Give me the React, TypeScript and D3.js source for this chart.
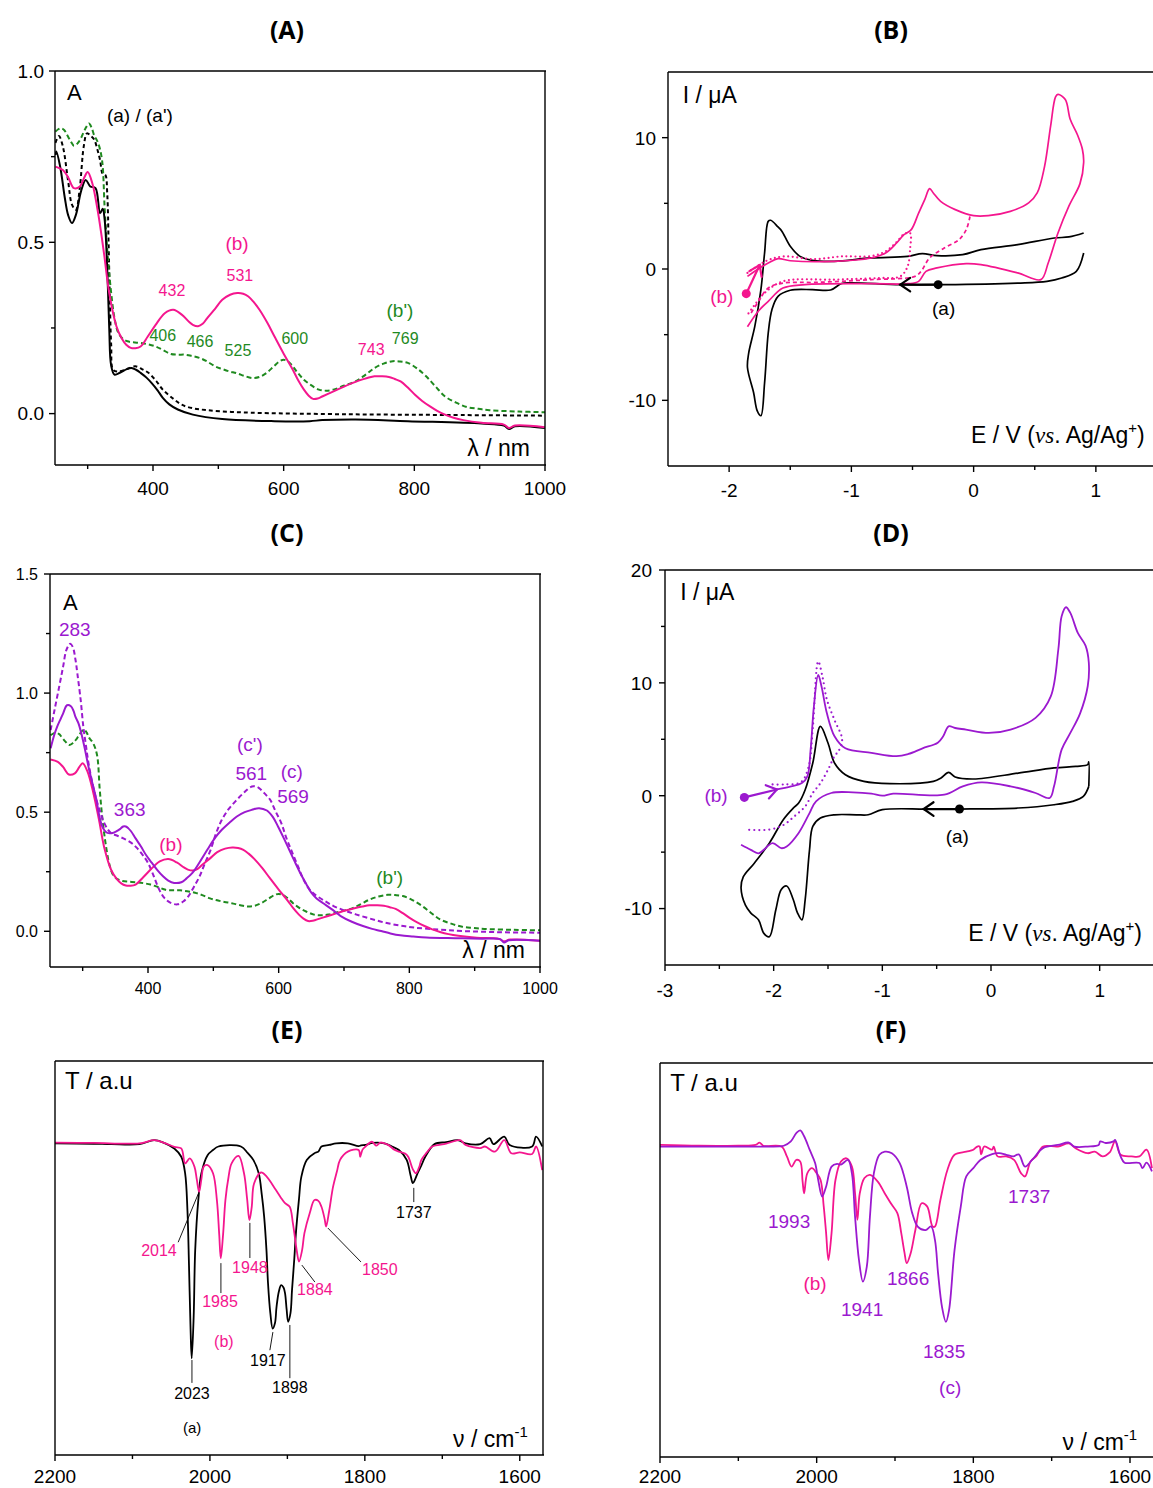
import React from 'react';
import * as d3 from 'd3';

type P = [number, number];

// ---------- Panel A / C : UV-vis (wavelength nm, absorbance) ----------
const uvBlackSolid: P[] = [[250.7,0.755],[252,0.765],[258,0.72],[265,0.63],[270,0.58],[276,0.556],[282,0.58],[290,0.65],[297,0.682],[304,0.663],[312,0.658],[319,0.585],[323,0.598],[326,0.566],[330,0.42],[333,0.25],[336,0.14],[341,0.114],[350,0.12],[360,0.13],[367,0.133],[374,0.128],[381,0.119],[390,0.105],[398,0.089],[407,0.068],[415,0.046],[425,0.027],[438,0.012],[461,-0.003],[506,-0.016],[586,-0.022],[640,-0.022],[659,-0.019],[710,-0.017],[790,-0.022],[903,-0.029],[937,-0.035],[945,-0.045],[954,-0.037],[1000,-0.042]];
const uvBlackDashed: P[] = [[250.7,0.79],[256,0.81],[262,0.78],[270,0.68],[276,0.61],[282,0.595],[288,0.66],[294,0.78],[299,0.818],[305,0.81],[310,0.8],[315,0.77],[319,0.74],[323,0.7],[327,0.697],[330,0.64],[332,0.5],[334,0.33],[336,0.2],[339,0.128],[347,0.123],[360,0.13],[373,0.138],[383,0.13],[393,0.119],[405,0.095],[415,0.07],[430,0.045],[444,0.026],[460,0.016],[483,0.01],[520,0.005],[563,0.002],[700,-0.002],[850,-0.004],[1000,-0.006]];
const uvPink: P[] = [[250.7,0.721],[262,0.711],[270,0.69],[279,0.658],[288,0.663],[295,0.69],[300,0.705],[307,0.673],[316,0.585],[325,0.468],[333,0.352],[344,0.255],[352,0.22],[359,0.201],[366,0.192],[373,0.191],[381,0.196],[392,0.225],[404,0.259],[418,0.293],[431,0.303],[444,0.289],[455,0.268],[461,0.259],[469,0.255],[476,0.262],[483,0.279],[495,0.306],[506,0.332],[518,0.347],[529,0.352],[538,0.35],[546,0.342],[554,0.326],[563,0.303],[575,0.265],[586,0.225],[600,0.175],[614,0.128],[622,0.098],[631,0.07],[638,0.053],[645,0.043],[652,0.044],[659,0.05],[673,0.062],[688,0.075],[702,0.087],[716,0.097],[728,0.104],[739,0.109],[750,0.109],[761,0.107],[770,0.101],[779,0.094],[790,0.076],[801,0.055],[812,0.037],[824,0.021],[835,0.008],[847,-0.003],[860,-0.012],[875,-0.019],[903,-0.027],[937,-0.032],[945,-0.042],[954,-0.035],[1000,-0.04]];
const uvGreenDashed: P[] = [[250.7,0.823],[255,0.83],[259,0.833],[264,0.828],[268,0.815],[274,0.795],[279,0.782],[285,0.79],[290,0.805],[296,0.83],[302,0.847],[306,0.835],[310,0.812],[316,0.79],[322,0.74],[326,0.6],[330,0.478],[336,0.352],[341,0.28],[347,0.235],[354,0.218],[361,0.211],[370,0.208],[381,0.206],[393,0.202],[404,0.196],[415,0.186],[427,0.174],[438,0.172],[449,0.172],[460,0.168],[472,0.162],[483,0.152],[495,0.138],[506,0.13],[517,0.123],[528,0.118],[540,0.11],[552,0.104],[563,0.107],[574,0.119],[585,0.138],[594,0.153],[600,0.157],[607,0.152],[614,0.138],[622,0.118],[631,0.099],[642,0.083],[654,0.07],[665,0.067],[676,0.07],[693,0.082],[710,0.094],[725,0.113],[739,0.133],[753,0.146],[767,0.153],[778,0.152],[790,0.148],[804,0.132],[818,0.109],[832,0.08],[847,0.05],[864,0.032],[881,0.019],[898,0.014],[915,0.01],[960,0.006],[1000,0.004]];
const uvPurpleSolid: P[] = [[251,0.768],[256,0.82],[261,0.859],[266,0.89],[270,0.914],[276,0.949],[282,0.945],[286,0.925],[289,0.9],[294,0.87],[298,0.83],[303,0.77],[309,0.69],[315,0.62],[321,0.552],[325,0.49],[329,0.447],[333,0.425],[338,0.413],[346,0.413],[352,0.42],[357,0.429],[362,0.44],[366,0.44],[370,0.432],[374,0.42],[381,0.39],[389,0.357],[397,0.32],[406,0.287],[414,0.258],[423,0.231],[431,0.213],[440,0.203],[451,0.206],[459,0.222],[468,0.245],[479,0.29],[491,0.343],[502,0.39],[513,0.426],[525,0.457],[536,0.482],[548,0.5],[559,0.51],[570,0.517],[582,0.507],[591,0.48],[599,0.44],[608,0.39],[616,0.343],[625,0.29],[633,0.245],[642,0.2],[650,0.162],[658,0.138],[667,0.12],[681,0.093],[695,0.064],[712,0.04],[729,0.022],[743,0.01],[757,0.001],[771,-0.009],[786,-0.017],[806,-0.022],[826,-0.026],[870,-0.029],[911,-0.031],[939,-0.033],[945,-0.047],[952,-0.038],[1000,-0.04]];
const uvPurpleDashed: P[] = [[251,0.845],[257,0.93],[264,1.026],[270,1.11],[275,1.18],[281,1.207],[285,1.193],[289,1.14],[292,1.08],[297,0.97],[301,0.859],[305,0.78],[309,0.705],[315,0.62],[321,0.552],[327,0.5],[332,0.461],[338,0.43],[343,0.413],[354,0.4],[366,0.385],[375,0.37],[383,0.35],[392,0.32],[400,0.287],[409,0.23],[417,0.176],[425,0.14],[434,0.12],[445,0.113],[454,0.125],[462,0.148],[470,0.185],[479,0.231],[487,0.285],[496,0.343],[504,0.41],[513,0.468],[524,0.515],[536,0.552],[548,0.585],[559,0.608],[566,0.607],[570,0.601],[578,0.58],[587,0.552],[595,0.505],[604,0.454],[612,0.39],[621,0.329],[630,0.27],[638,0.217],[646,0.18],[655,0.155],[670,0.128],[684,0.106],[700,0.088],[718,0.071],[740,0.053],[763,0.036],[786,0.024],[809,0.015],[845,0.007],[882,0.001],[940,-0.004],[1000,-0.006]];

// ---------- Panel B : CV (E / V, I / uA) ----------
const cvB_black: P[] = [[0.9,1.22],[0.84,-0.18],[0.72,-0.69],[0.6,-0.94],[0.36,-1.07],[-0.24,-1.19],[-0.6,-1.19],[-1.0,-1.05],[-1.08,-1.1],[-1.17,-1.6],[-1.32,-1.57],[-1.5,-1.62],[-1.6,-2.08],[-1.65,-3.1],[-1.68,-4.87],[-1.71,-8.68],[-1.74,-11.17],[-1.77,-10.8],[-1.8,-9.4],[-1.85,-7.5],[-1.84,-6.4],[-1.79,-4.37],[-1.74,-1.57],[-1.71,1.22],[-1.68,3.63],[-1.66,3.71],[-1.6,3.2],[-1.57,2.9],[-1.5,1.73],[-1.42,0.96],[-1.32,0.66],[-1.14,0.58],[-0.84,0.84],[-0.54,0.96],[-0.42,1.17],[-0.3,1.02],[-0.09,1.09],[0.06,1.47],[0.36,1.85],[0.66,2.36],[0.78,2.44],[0.9,2.74]];
const cvB_pink: P[] = [[-1.85,-0.56],[-1.75,0.08],[-1.68,0.46],[-1.6,0.79],[-1.5,0.63],[-1.14,0.58],[-0.84,0.84],[-0.72,1.22],[-0.63,1.98],[-0.57,2.61],[-0.51,3.0],[-0.45,4.26],[-0.4,5.28],[-0.36,6.12],[-0.33,5.79],[-0.27,5.15],[-0.15,4.52],[0,4.06],[0.12,4.06],[0.3,4.39],[0.45,5.03],[0.52,5.79],[0.58,7.8],[0.63,10.9],[0.67,13.1],[0.69,13.3],[0.75,12.9],[0.79,11.4],[0.85,10.2],[0.89,9.1],[0.9,8.1],[0.87,6.5],[0.78,4.8],[0.69,2.74],[0.61,0.46],[0.55,-0.81],[0.36,-0.3],[0.06,0.33],[-0.06,0.41],[-0.3,0.08],[-0.39,-0.18],[-0.45,-0.94],[-0.54,-1.12],[-0.84,-1.12],[-1.38,-1.19],[-1.56,-1.45],[-1.68,-2.46],[-1.76,-3.2],[-1.85,-4.4]];
const cvB_pinkDashed: P[] = [[-0.03,4.0],[-0.06,3.0],[-0.12,2.23],[-0.24,1.6],[-0.36,0.84],[-0.43,-0.18],[-0.48,-0.56],[-0.84,-0.81],[-1.29,-1.02],[-1.56,-1.07],[-1.68,-1.45],[-1.76,-2.46],[-1.82,-3.35]];
const cvB_pinkDotted: P[] = [[-1.85,-0.3],[-1.7,0.6],[-1.56,0.95],[-1.3,0.75],[-1.08,0.96],[-0.84,0.98],[-0.72,1.35],[-0.63,2.05],[-0.57,2.65],[-0.52,2.74],[-0.52,1.5],[-0.54,0.2],[-0.6,-0.56],[-0.78,-0.69],[-1.14,-0.81],[-1.56,-0.94],[-1.71,-1.83],[-1.8,-2.84],[-1.85,-3.5]];

// ---------- Panel D : CV ----------
const cvD_black: P[] = [[0.9,0.83],[0.85,-0.06],[0.75,-0.5],[0.58,-0.8],[0.25,-1.09],[-0.29,-1.18],[-0.6,-1.18],[-1.0,-1.24],[-1.13,-1.69],[-1.24,-1.69],[-1.44,-1.69],[-1.57,-1.98],[-1.64,-2.72],[-1.67,-4.8],[-1.71,-9.2],[-1.74,-11.0],[-1.78,-10.4],[-1.82,-9.2],[-1.88,-8.0],[-1.93,-8.3],[-1.98,-10.1],[-2.04,-12.5],[-2.09,-12.2],[-2.14,-11.0],[-2.21,-10.4],[-2.26,-9.7],[-2.3,-8.2],[-2.28,-7.2],[-2.18,-6.0],[-2.04,-4.2],[-1.91,-2.1],[-1.82,-1.1],[-1.77,-0.65],[-1.71,0.53],[-1.64,2.9],[-1.57,6.15],[-1.5,4.67],[-1.44,2.9],[-1.34,1.86],[-1.17,1.27],[-0.93,1.07],[-0.53,1.27],[-0.46,1.57],[-0.39,2.07],[-0.33,1.66],[-0.16,1.48],[0.25,2.0],[0.58,2.46],[0.78,2.6],[0.89,2.75],[0.9,3.0],[0.9,0.83]];
const cvD_purple: P[] = [[-1.98,0.53],[-1.84,0.83],[-1.74,1.12],[-1.69,1.72],[-1.66,4.08],[-1.63,7.9],[-1.59,10.7],[-1.56,9.7],[-1.51,7.3],[-1.44,5.27],[-1.34,4.2],[-1.1,3.8],[-0.87,3.5],[-0.76,3.7],[-0.63,4.2],[-0.49,4.7],[-0.44,5.27],[-0.39,6.15],[-0.33,6.0],[-0.23,5.86],[-0.02,5.56],[0.18,5.86],[0.41,6.9],[0.55,8.8],[0.62,13.0],[0.65,15.9],[0.69,16.7],[0.73,16.2],[0.8,14.4],[0.87,13.3],[0.9,11.8],[0.89,9.7],[0.82,7.3],[0.73,5.56],[0.65,4.08],[0.58,0.83],[0.54,-0.2],[0.41,0.24],[0.18,0.83],[-0.09,1.18],[-0.26,0.83],[-0.43,0.09],[-0.9,0.18],[-1.0,0],[-1.1,0.18],[-1.27,0.3],[-1.47,0.24],[-1.61,-0.5],[-1.67,-1.54],[-1.77,-3.3],[-1.88,-4.5],[-1.93,-4.65],[-2.01,-4.2],[-2.14,-5.1],[-2.21,-4.8],[-2.3,-4.35]];
const cvD_purpleDotted: P[] = [[-2.01,1.0],[-1.9,1.0],[-1.75,1.2],[-1.68,2.5],[-1.64,6.0],[-1.59,11.9],[-1.55,10.5],[-1.51,8.5],[-1.44,6.7],[-1.37,5.0],[-1.4,4.0],[-1.44,3.5],[-1.5,2.3],[-1.57,1.1],[-1.64,0.24],[-1.71,-0.95],[-1.81,-1.83],[-1.91,-2.6],[-2.04,-3.0],[-2.27,-3.0]];

// ---------- Panel E / F : IR (wavenumber, T a.u.) ----------
const irE_black: P[] = [[2200,79.1],[2150,79.0],[2127,78.9],[2091,78.9],[2072,79.9],[2060,79.3],[2046,77.8],[2037,75.7],[2032,71.5],[2029,62],[2027,48],[2025,32],[2023.5,24.5],[2021,35],[2019,52],[2015,64.7],[2011,71.5],[2003,76.1],[1996,77.4],[1989,78.3],[1960,78.3],[1951,76.6],[1944,74.9],[1937,71.5],[1933,66],[1930,60.5],[1927,52],[1925,43.6],[1922,36],[1919,32.1],[1916,33.5],[1914,37.6],[1911,41.5],[1908,43.1],[1905,42.5],[1903,41],[1901,37],[1899,33.8],[1896,36],[1894,41.9],[1891,50],[1889,56.3],[1885,65],[1882,70.6],[1875,74.9],[1865,76.6],[1860,77],[1856,78.3],[1846,78.7],[1837,79.1],[1822,79.1],[1808,78.4],[1805,78.6],[1799,78.7],[1790,79.2],[1775,79.1],[1765,78.3],[1756,77.4],[1746,74.9],[1741,71],[1738,69],[1735,70],[1732,71.5],[1727,73.5],[1722,75.7],[1710,78.9],[1695,79.4],[1680,79.9],[1670,79.1],[1651,78.9],[1639,80.4],[1634,78.9],[1620,80.8],[1613,78.7],[1584,78.3],[1579,80.8],[1571,78.3]];
const irE_pink: P[] = [[2200,79.3],[2150,79.2],[2091,79.1],[2072,79.9],[2060,79.3],[2046,78.2],[2037,77.8],[2032,74],[2026,75.3],[2020,73.2],[2017,70],[2014,66.8],[2011,70],[2008,73.2],[2003,73.6],[1996,71.5],[1991,64.7],[1988,56],[1986,49.9],[1983,56],[1980,64.7],[1976,70.5],[1972,74],[1963,75.9],[1956,71.5],[1952,65],[1949,59.6],[1946,63],[1943,68.9],[1934,71.7],[1927,70.7],[1915,67.3],[1909,65.5],[1903,63.9],[1897,63],[1893,59],[1891,56.3],[1888,52],[1885,49.1],[1881,52],[1878,56.3],[1871,61.5],[1865,64.7],[1860,64.5],[1856,63],[1852,60],[1850,58],[1846,62],[1841,68.1],[1836,72],[1832,74.9],[1822,77],[1808,77.4],[1806,75.7],[1803,77.5],[1799,78.3],[1791,79.5],[1785,78.5],[1780,79.3],[1770,78.7],[1762,77.5],[1756,77],[1748,76.5],[1744,75.7],[1738,72.5],[1734,71.5],[1730,73],[1727,74.9],[1720,76.8],[1713,78.3],[1695,79],[1677,79.9],[1670,78.7],[1651,77.9],[1645,78.3],[1632,77],[1620,79.9],[1611,76.6],[1600,76.8],[1584,76.4],[1579,78.3],[1571,72.3]];
const irF_purple: P[] = [[2200,78.8],[2150,78.8],[2115,78.8],[2068,78.8],[2042,79],[2033,80.1],[2026,82.2],[2021,82.9],[2016,81.4],[2009,78],[2002,74.6],[1998,70.3],[1993,66.1],[1988,68.6],[1981,73.7],[1974,74.4],[1969,74.2],[1960,75.4],[1955,72],[1951,61],[1946,50],[1941,44.5],[1936,48.3],[1932,61],[1927,72],[1920,76.7],[1913,77.5],[1904,77.1],[1894,74.6],[1885,68.6],[1878,61.9],[1871,58.5],[1861,57.6],[1854,58.5],[1849,55.1],[1845,46.6],[1840,38.1],[1835,34.3],[1831,37.3],[1824,52.5],[1816,63.6],[1809,71.2],[1800,73.3],[1791,75.4],[1776,76.9],[1767,77.1],[1758,76.7],[1749,76.3],[1742,76.8],[1734,73.7],[1725,75.4],[1711,78.4],[1692,79.2],[1678,79.8],[1671,78.8],[1654,78.8],[1640,79.2],[1638,80.1],[1631,79.7],[1621,80.1],[1619,80.5],[1612,76.3],[1607,74.7],[1588,74.6],[1584,73.3],[1579,74.7],[1572,72.5]];
const irF_pink: P[] = [[2200,79.2],[2150,79],[2100,79],[2078,79.2],[2073,79.8],[2068,79],[2045,78.8],[2038,76.3],[2032,73.7],[2026,75.4],[2021,75],[2018,70],[2016,66.9],[2012,72],[2006,73.3],[2000,72],[1995,70.3],[1991,63.6],[1988,57],[1985,50],[1981,56.8],[1976,70.3],[1969,75],[1962,75.8],[1955,73.7],[1951,66.9],[1948,60.2],[1945,66.9],[1939,70.8],[1932,71.6],[1922,69.9],[1913,66.9],[1904,64],[1897,61.9],[1892,56.8],[1888,52],[1885,49.2],[1880,51.7],[1874,57.6],[1866,64.4],[1859,63.6],[1852,58.5],[1849,58.5],[1842,65.3],[1833,72.9],[1824,76.7],[1809,77.5],[1800,78],[1795,78.8],[1792,78.8],[1790,76.8],[1786,78.8],[1776,78],[1774,78.8],[1769,76.3],[1758,76.3],[1748,75.4],[1739,72],[1734,71.2],[1727,75],[1720,76.3],[1711,78.8],[1692,78.8],[1678,79.6],[1669,78.3],[1654,77.1],[1645,77.5],[1635,76.3],[1626,77.3],[1619,80.1],[1612,76.7],[1598,76.3],[1588,76.3],[1579,78],[1572,73.3]];

// ---------- ticks ----------
const uvXMajor = [400, 600, 800, 1000];
const uvXMinor = [300, 500, 700, 900];
const aYMajor = [0, 0.5, 1.0];
const aYMinor = [0.25, 0.75];
const cYMajor = [0, 0.5, 1.0, 1.5];
const cYMinor = [0.25, 0.75, 1.25];
const bXMajor = [-2, -1, 0, 1];
const bXMinor = [-1.5, -0.5, 0.5];
const bYMajor = [-10, 0, 10];
const bYMinor = [-5, 5];
const dXMajor = [-3, -2, -1, 0, 1];
const dXMinor = [-2.5, -1.5, -0.5, 0.5];
const dYMajor = [-10, 0, 10, 20];
const dYMinor = [-5, 5, 15];
const irXMajor = [2200, 2000, 1800, 1600];
const irXMinor = [2100, 1900, 1700];

// ---------- annotations: [text, x, y] in data units ----------
type Lab = [string, number, number];
const labelsA_pink: Lab[] = [['531', 533, 0.388], ['432', 429, 0.344], ['743', 734, 0.172]];
const labelsA_green: Lab[] = [['406', 415, 0.213], ['466', 472, 0.195], ['525', 530, 0.169], ['600', 617, 0.204], ['769', 786, 0.204]];
const labelsC_purple: Lab[] = [['283', 288, 1.238], ['363', 372, 0.485], ['561', 558, 0.636], ['569', 622, 0.54]];
const labelsE_pink: Lab[] = [['2014', 2065.8, 50.5], ['1985', 1987, 37.6], ['1948', 1948.4, 46.2], ['1884', 1864.5, 40.6], ['1850', 1780.6, 45.7]];
const labelsE_black: Lab[] = [['1737', 1736.8, 60.2], ['2023', 2023.2, 14.2], ['1917', 1925.2, 22.6], ['1898', 1896.8, 15.7]];
const leadersE_pink: [number, number, number, number][] = [[2041, 54, 2015, 66.3], [1985.8, 48.7, 1985.8, 41.1], [1948.4, 58.9, 1948.4, 50], [1881.3, 48.2, 1864.5, 43.9], [1847.7, 57.6, 1805, 49]];
const leadersE_black: [number, number, number, number][] = [[1736.8, 67.8, 1736.8, 64.2], [2023.2, 24.1, 2023.2, 18.3], [1918.7, 31.2, 1922.6, 26.6], [1896.8, 33, 1896.8, 19.5]];
const labelsF_purple: Lab[] = [['1993', 2035.2, 58.1], ['1941', 1942, 35.8], ['1866', 1883.3, 43.7], ['1835', 1837.3, 25.1], ['(c)', 1829.6, 16], ['1737', 1728.7, 64.5]];

const PINK = '#f4168e';
const PURPLE = '#9b19cf';
const GREEN = '#1f8a1f';
const BLACK = '#000';
const SANS = '"Liberation Sans", Arial, sans-serif';

type Scale = d3.ScaleLinear<number, number>;

interface Spec {
  id: string;
  left: number; right: number; top: number; bottom: number;
  xDom: [number, number]; yDom: [number, number];
  xMajor: number[]; xMinor: number[]; yMajor: number[]; yMinor: number[];
  xFmt: (v: number) => string; yFmt: (v: number) => string;
  tickFont: number; xLabOff: number; yLabOff: number;
  rightBorder: boolean;
  title: string; titleX: number; titleY: number;
}

function Panel({ s, children }: { s: Spec; children: (x: Scale, y: Scale) => React.ReactNode }) {
  const x = d3.scaleLinear().domain(s.xDom).range([s.left, s.right]);
  const y = d3.scaleLinear().domain(s.yDom).range([s.bottom, s.top]);
  const rEdge = Math.min(s.right, 1153);
  return (
    <g>
      <defs>
        <clipPath id={'clip' + s.id}>
          <rect x={s.left} y={s.top} width={s.right - s.left} height={s.bottom - s.top} />
        </clipPath>
      </defs>
      <text x={s.titleX} y={s.titleY} textAnchor="middle" fontFamily='"Open Sans", sans-serif' fontWeight={700} fontSize={25}>{s.title}</text>
      <g clipPath={`url(#clip${s.id})`}>{children(x, y)}</g>
      <g stroke="#000" strokeWidth={1.4} fill="none">
        <line x1={s.left} x2={rEdge + 1} y1={s.top} y2={s.top} />
        <line x1={s.left} x2={rEdge + 1} y1={s.bottom} y2={s.bottom} />
        <line x1={s.left} x2={s.left} y1={s.top} y2={s.bottom} />
        {s.rightBorder && <line x1={s.right} x2={s.right} y1={s.top} y2={s.bottom} />}
        {s.xMajor.map(v => <line key={'xM' + v} x1={x(v)} x2={x(v)} y1={s.bottom} y2={s.bottom + 6} />)}
        {s.xMinor.map(v => <line key={'xm' + v} x1={x(v)} x2={x(v)} y1={s.bottom} y2={s.bottom + 4} />)}
        {s.yMajor.map(v => <line key={'yM' + v} x1={s.left - 6} x2={s.left} y1={y(v)} y2={y(v)} />)}
        {s.yMinor.map(v => <line key={'ym' + v} x1={s.left - 4} x2={s.left} y1={y(v)} y2={y(v)} />)}
      </g>
      <g fontFamily={SANS} fontSize={s.tickFont} fill="#000">
        {s.xMajor.map(v => <text key={'xt' + v} x={x(v)} y={s.bottom + s.xLabOff} textAnchor="middle">{s.xFmt(v)}</text>)}
        {s.yMajor.map(v => <text key={'yt' + v} x={s.left - s.yLabOff} y={y(v) + s.tickFont * 0.36} textAnchor="end">{s.yFmt(v)}</text>)}
      </g>
    </g>
  );
}

const mkLine = (x: Scale, y: Scale) =>
  d3.line<P>().x(d => x(d[0])).y(d => y(d[1])).curve(d3.curveCatmullRom.alpha(0.5));

function Curve({ data, x, y, color, width = 2, dash }: { data: P[]; x: Scale; y: Scale; color: string; width?: number; dash?: string }) {
  return <path d={mkLine(x, y)(data) || ''} fill="none" stroke={color} strokeWidth={width} strokeDasharray={dash} strokeLinecap={dash && dash.startsWith('0') ? 'round' : 'butt'} strokeLinejoin="round" />;
}

function Arrow({ from, to, x, y, color }: { from: P; to: P; x: Scale; y: Scale; color: string }) {
  const x0 = x(from[0]), y0 = y(from[1]), x1 = x(to[0]), y1 = y(to[1]);
  const ang = Math.atan2(y1 - y0, x1 - x0);
  const L = 12, a = 0.6;
  const h1: P = [x1 - L * Math.cos(ang - a), y1 - L * Math.sin(ang - a)];
  const h2: P = [x1 - L * Math.cos(ang + a), y1 - L * Math.sin(ang + a)];
  return (
    <g stroke={color} strokeWidth={2.2} fill="none" strokeLinecap="round">
      <line x1={x0} y1={y0} x2={x1} y2={y1} />
      <polyline points={`${h1[0]},${h1[1]} ${x1},${y1} ${h2[0]},${h2[1]}`} />
      <circle cx={x0} cy={y0} r={4.5} fill={color} stroke="none" />
    </g>
  );
}

function Txt({ t, x, y, color = '#000', size = 16, anchor = 'middle' }: { t: React.ReactNode; x: number; y: number; color?: string; size?: number; anchor?: string }) {
  return <text x={x} y={y} fill={color} fontSize={size} fontFamily={SANS} textAnchor={anchor as any}>{t}</text>;
}

const fmt1 = (v: number) => v.toFixed(1);
const fmt0 = (v: number) => String(v);

const specA: Spec = { id: 'A', left: 55, right: 545, top: 71, bottom: 465, xDom: [250, 1000], yDom: [-0.15, 1.0], xMajor: uvXMajor, xMinor: uvXMinor, yMajor: aYMajor, yMinor: aYMinor, xFmt: fmt0, yFmt: fmt1, tickFont: 19, xLabOff: 30, yLabOff: 11, rightBorder: true, title: '(A)', titleX: 287, titleY: 39 };
const specB: Spec = { id: 'B', left: 668, right: 1157, top: 72, bottom: 466, xDom: [-2.5, 1.5], yDom: [-15, 15], xMajor: bXMajor, xMinor: bXMinor, yMajor: bYMajor, yMinor: bYMinor, xFmt: fmt0, yFmt: fmt0, tickFont: 19, xLabOff: 31, yLabOff: 12, rightBorder: false, title: '(B)', titleX: 891, titleY: 39 };
const specC: Spec = { id: 'C', left: 50, right: 540, top: 574, bottom: 967, xDom: [250, 1000], yDom: [-0.15, 1.5], xMajor: uvXMajor, xMinor: uvXMinor, yMajor: cYMajor, yMinor: cYMinor, xFmt: fmt0, yFmt: fmt1, tickFont: 16, xLabOff: 27, yLabOff: 12, rightBorder: true, title: '(C)', titleX: 287, titleY: 542 };
const specD: Spec = { id: 'D', left: 665, right: 1154, top: 570, bottom: 965, xDom: [-3, 1.5], yDom: [-15, 20], xMajor: dXMajor, xMinor: dXMinor, yMajor: dYMajor, yMinor: dYMinor, xFmt: fmt0, yFmt: fmt0, tickFont: 19, xLabOff: 32, yLabOff: 13, rightBorder: false, title: '(D)', titleX: 891, titleY: 542 };
const specE: Spec = { id: 'E', left: 55, right: 543, top: 1061, bottom: 1455, xDom: [2200, 1570], yDom: [0, 100], xMajor: irXMajor, xMinor: irXMinor, yMajor: [], yMinor: [], xFmt: fmt0, yFmt: fmt0, tickFont: 19, xLabOff: 28, yLabOff: 12, rightBorder: true, title: '(E)', titleX: 287, titleY: 1039 };
const specF: Spec = { id: 'F', left: 660, right: 1153.5, top: 1063, bottom: 1457, xDom: [2200, 1570], yDom: [0, 100], xMajor: irXMajor, xMinor: irXMinor, yMajor: [], yMinor: [], xFmt: fmt0, yFmt: fmt0, tickFont: 19, xLabOff: 26, yLabOff: 12, rightBorder: false, title: '(F)', titleX: 891, titleY: 1039 };

const EAxisTitle = ({ x, y }: { x: number; y: number }) => (
  <text x={x} y={y} textAnchor="end" fontFamily={SANS} fontSize={23} fill="#000">
    E / V (<tspan fontFamily='"Liberation Serif", serif' fontStyle="italic">vs</tspan>. Ag/Ag<tspan fontSize={15} dy={-10}>+</tspan><tspan dy={10}>)</tspan>
  </text>
);
const NuTitle = ({ x, y }: { x: number; y: number }) => (
  <text x={x} y={y} textAnchor="end" fontFamily={SANS} fontSize={23} fill="#000">
    ν / cm<tspan fontSize={15} dy={-10}>-1</tspan>
  </text>
);

export default function App() {
  return (
    <svg width={1153} height={1488} viewBox="0 0 1153 1488" style={{ position: 'absolute', left: 0, top: 0, background: '#fff' }}>
      <rect width={1153} height={1488} fill="#fff" />
      <Panel s={specA}>
        {(x, y) => (
          <g>
            <Curve data={uvBlackDashed} x={x} y={y} color={BLACK} dash="4,3" />
            <Curve data={uvGreenDashed} x={x} y={y} color={GREEN} dash="5,3" />
            <Curve data={uvBlackSolid} x={x} y={y} color={BLACK} />
            <Curve data={uvPink} x={x} y={y} color={PINK} />
          </g>
        )}
      </Panel>
      {(() => {
        const x = d3.scaleLinear().domain(specA.xDom).range([specA.left, specA.right]);
        const y = d3.scaleLinear().domain(specA.yDom).range([specA.bottom, specA.top]);
        return (
          <g>
            <Txt t="A" x={x(268.4)} y={y(0.915)} size={22} anchor="start" />
            <Txt t="(a) / (a')" x={x(380)} y={y(0.851)} size={19} />
            <Txt t="(b)" x={x(528.6)} y={y(0.478)} size={19} color={PINK} />
            <Txt t="(b')" x={x(778)} y={y(0.283)} size={19} color={GREEN} />
            {labelsA_pink.map(l => <Txt key={l[0]} t={l[0]} x={x(l[1])} y={y(l[2])} color={PINK} />)}
            {labelsA_green.map(l => <Txt key={l[0]} t={l[0]} x={x(l[1])} y={y(l[2])} color={GREEN} />)}
            <Txt t="λ / nm" x={x(977)} y={y(-0.125)} size={23} anchor="end" />
          </g>
        );
      })()}

      <Panel s={specB}>
        {(x, y) => (
          <g>
            <Curve data={cvB_black} x={x} y={y} color={BLACK} width={1.7} />
            <Curve data={cvB_pinkDotted} x={x} y={y} color={PINK} width={2.2} dash="0,4.5" />
            <Curve data={cvB_pinkDashed} x={x} y={y} color={PINK} width={1.7} dash="4,3" />
            <Curve data={cvB_pink} x={x} y={y} color={PINK} width={1.7} />
            <Arrow from={[-0.29, -1.19]} to={[-0.6, -1.19]} x={x} y={y} color={BLACK} />
            <Arrow from={[-1.86, -1.88]} to={[-1.75, 0.3]} x={x} y={y} color={PINK} />
            <Txt t="I / μA" x={x(-2.38)} y={y(12.62)} size={23} anchor="start" />
            <Txt t="(b)" x={x(-2.06)} y={y(-2.59)} size={19} color={PINK} />
            <Txt t="(a)" x={x(-0.245)} y={y(-3.5)} size={19} />
            <EAxisTitle x={x(1.4)} y={y(-13.23)} />
          </g>
        )}
      </Panel>

      <Panel s={specC}>
        {(x, y) => (
          <g>
            <Curve data={uvGreenDashed} x={x} y={y} color={GREEN} dash="5,3" />
            <Curve data={uvPurpleDashed} x={x} y={y} color={PURPLE} dash="5,3" />
            <Curve data={uvPink} x={x} y={y} color={PINK} />
            <Curve data={uvPurpleSolid} x={x} y={y} color={PURPLE} />
            <Txt t="A" x={x(270)} y={y(1.347)} size={22} anchor="start" />
            {labelsC_purple.map(l => <Txt key={l[0]} t={l[0]} x={x(l[1])} y={y(l[2])} color={PURPLE} size={19} />)}
            <Txt t="(c')" x={x(556)} y={y(0.757)} size={19} color={PURPLE} />
            <Txt t="(c)" x={x(620)} y={y(0.644)} size={19} color={PURPLE} />
            <Txt t="(b)" x={x(435)} y={y(0.339)} size={19} color={PINK} />
            <Txt t="(b')" x={x(770)} y={y(0.2)} size={19} color={GREEN} />
            <Txt t="λ / nm" x={x(977)} y={y(-0.113)} size={23} anchor="end" />
          </g>
        )}
      </Panel>

      <Panel s={specD}>
        {(x, y) => (
          <g>
            <Curve data={cvD_black} x={x} y={y} color={BLACK} width={1.7} />
            <Curve data={cvD_purpleDotted} x={x} y={y} color={PURPLE} width={2.2} dash="0,5" />
            <Curve data={cvD_purple} x={x} y={y} color={PURPLE} width={1.8} />
            <Arrow from={[-0.29, -1.18]} to={[-0.62, -1.18]} x={x} y={y} color={BLACK} />
            <Arrow from={[-2.27, -0.15]} to={[-1.97, 0.55]} x={x} y={y} color={PURPLE} />
            <Txt t="I / μA" x={x(-2.86)} y={y(17.3)} size={23} anchor="start" />
            <Txt t="(b)" x={x(-2.53)} y={y(-0.53)} size={19} color={PURPLE} />
            <Txt t="(a)" x={x(-0.31)} y={y(-4.17)} size={19} />
            <EAxisTitle x={x(1.39)} y={y(-12.87)} />
          </g>
        )}
      </Panel>

      <Panel s={specE}>
        {(x, y) => (
          <g>
            <Curve data={irE_black} x={x} y={y} color={BLACK} width={1.8} />
            <Curve data={irE_pink} x={x} y={y} color={PINK} width={1.8} />
            {leadersE_pink.map((l, i) => <line key={'lp' + i} x1={x(l[0])} y1={y(l[1])} x2={x(l[2])} y2={y(l[3])} stroke="#000" strokeWidth={0.9} />)}
            {leadersE_black.map((l, i) => <line key={'lb' + i} x1={x(l[0])} y1={y(l[1])} x2={x(l[2])} y2={y(l[3])} stroke="#000" strokeWidth={0.9} />)}
            {labelsE_pink.map(l => <Txt key={l[0]} t={l[0]} x={x(l[1])} y={y(l[2])} color={PINK} size={16} />)}
            {labelsE_black.map(l => <Txt key={l[0]} t={l[0]} x={x(l[1])} y={y(l[2])} size={16} />)}
            <Txt t="(b)" x={x(1982)} y={y(27.4)} size={16} color={PINK} />
            <Txt t="(a)" x={x(2023)} y={y(5.6)} size={15} />
            <Txt t="T / a.u" x={x(2187)} y={y(92.9)} size={24} anchor="start" />
            <NuTitle x={x(1589.7)} y={y(2.0)} />
          </g>
        )}
      </Panel>

      <Panel s={specF}>
        {(x, y) => (
          <g>
            <Curve data={irF_pink} x={x} y={y} color={PINK} width={1.8} />
            <Curve data={irF_purple} x={x} y={y} color={PURPLE} width={1.8} />
            {labelsF_purple.map(l => <Txt key={l[0]} t={l[0]} x={x(l[1])} y={y(l[2])} color={PURPLE} size={19} />)}
            <Txt t="(b)" x={x(2002)} y={y(42.4)} size={19} color={PINK} />
            <Txt t="T / a.u" x={x(2187)} y={y(92.9)} size={24} anchor="start" />
            <NuTitle x={x(1590.8)} y={y(1.8)} />
          </g>
        )}
      </Panel>
    </svg>
  );
}
